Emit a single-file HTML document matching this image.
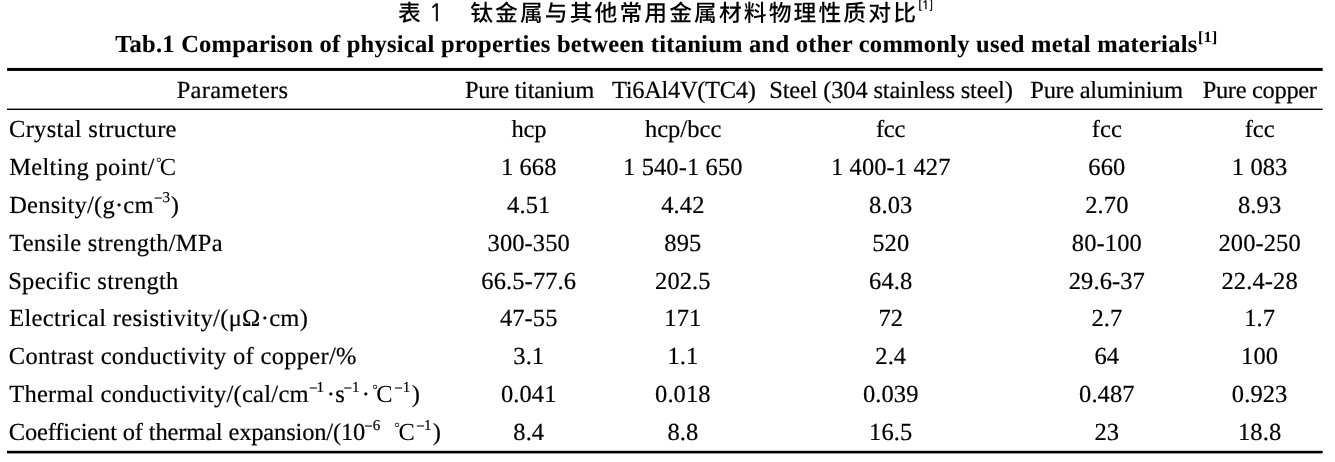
<!DOCTYPE html>
<html lang="zh"><head><meta charset="utf-8"><title>Tab.1</title>
<style>
html,body{margin:0;padding:0;background:#fff;}
body{text-rendering:geometricPrecision;width:1335px;height:462px;position:relative;overflow:hidden;color:#000;}
.t{position:absolute;white-space:pre;line-height:40px;height:40px;font-family:"Liberation Serif","Noto Serif CJK SC",serif;font-size:24.5px;-webkit-text-stroke:0.2px #000;}
.b{font-weight:bold;-webkit-text-stroke:0.1px #000;}
.cn{font-family:"Liberation Sans","Noto Sans CJK SC",sans-serif;font-size:22.8px;font-weight:500;-webkit-text-stroke:0;}
.n{font-size:24.5px;}
.c{width:200px;text-align:center;letter-spacing:0.1px;}
</style></head>
<body>
<svg width="1335" height="462" viewBox="0 0 1335 462" style="position:absolute;left:0;top:0" aria-hidden="true"><rect x="7" y="67.95" width="1315.7" height="3"/><rect x="7" y="108.6" width="1315.7" height="1.4"/><rect x="7" y="450.8" width="1315.7" height="2.6"/></svg>
<span class="t cn" style="left:397.93px;top:-6.70px;letter-spacing:0.000px;">表</span>
<span class="t cn" style="left:428.90px;top:-6.00px;letter-spacing:0.000px;font-family:NanumGothic,sans-serif;font-weight:400;font-size:23.6px;-webkit-text-stroke:0.5px #000;">1</span>
<span class="t cn" style="left:470.13px;top:-6.70px;letter-spacing:2.086px;">钛金属与其他常用金属材料物理性质对比</span>
<span class="t cn" style="left:917.67px;top:-14.70px;letter-spacing:0.266px;font-family:NanumGothic,sans-serif;font-weight:400;font-size:11.5px;-webkit-text-stroke:0.4px #000;">[1]</span>
<span class="t b" style="left:115.17px;top:24.50px;letter-spacing:0.256px;">Tab.1 Comparison of physical properties between titanium and other commonly used metal materials</span>
<span class="t b" style="left:1197.90px;top:18.00px;letter-spacing:0.633px;font-size:15.5px;">[1]</span>
<span class="t " style="left:176.67px;top:71.00px;letter-spacing:0.288px;">Parameters</span>
<span class="t " style="left:464.97px;top:71.00px;letter-spacing:-0.283px;">Pure titanium</span>
<span class="t " style="left:611.97px;top:71.00px;letter-spacing:-0.327px;">Ti6Al4V(TC4)</span>
<span class="t " style="left:769.27px;top:71.00px;letter-spacing:-0.181px;">Steel (304 stainless steel)</span>
<span class="t " style="left:1030.37px;top:71.00px;letter-spacing:-0.345px;">Pure aluminium</span>
<span class="t " style="left:1202.67px;top:71.00px;letter-spacing:-0.333px;">Pure copper</span>
<span class="t " style="left:9.03px;top:109.90px;letter-spacing:0.304px;">Crystal structure</span>
<span class="t " style="left:9.17px;top:147.80px;letter-spacing:0.333px;">Melting point/</span>
<span class="t " style="left:9.17px;top:185.70px;letter-spacing:0.234px;">Density/(g·cm</span>
<span class="t " style="left:9.17px;top:223.60px;letter-spacing:0.256px;">Tensile strength/MPa</span>
<span class="t " style="left:8.17px;top:261.50px;letter-spacing:0.304px;">Specific strength</span>
<span class="t " style="left:9.17px;top:299.40px;letter-spacing:0.330px;">Electrical resistivity/(μΩ·cm)</span>
<span class="t " style="left:8.83px;top:337.30px;letter-spacing:0.295px;">Contrast conductivity of copper/%</span>
<span class="t " style="left:9.17px;top:375.20px;letter-spacing:0.284px;">Thermal conductivity/(cal/cm</span>
<span class="t " style="left:8.83px;top:413.10px;letter-spacing:-0.162px;">Coefficient of thermal expansion/(10</span>
<span class="t" style="left:511.50px;top:109.90px;letter-spacing:-0.200px">hcp</span>
<span class="t c n" style="left:428.75px;top:147.80px">1 668</span>
<span class="t c n" style="left:428.75px;top:185.70px">4.51</span>
<span class="t c n" style="left:428.75px;top:223.60px">300-350</span>
<span class="t c n" style="left:428.75px;top:261.50px">66.5-77.6</span>
<span class="t c n" style="left:428.75px;top:299.40px">47-55</span>
<span class="t c n" style="left:428.75px;top:337.30px">3.1</span>
<span class="t c n" style="left:428.75px;top:375.20px">0.041</span>
<span class="t c n" style="left:428.75px;top:413.10px">8.4</span>
<span class="t" style="left:644.90px;top:109.90px;letter-spacing:0.033px">hcp/bcc</span>
<span class="t c n" style="left:582.85px;top:147.80px">1 540-1 650</span>
<span class="t c n" style="left:582.85px;top:185.70px">4.42</span>
<span class="t c n" style="left:582.85px;top:223.60px">895</span>
<span class="t c n" style="left:582.85px;top:261.50px">202.5</span>
<span class="t c n" style="left:582.85px;top:299.40px">171</span>
<span class="t c n" style="left:582.85px;top:337.30px">1.1</span>
<span class="t c n" style="left:582.85px;top:375.20px">0.018</span>
<span class="t c n" style="left:582.85px;top:413.10px">8.8</span>
<span class="t" style="left:875.93px;top:109.90px;letter-spacing:-0.267px">fcc</span>
<span class="t c n" style="left:790.75px;top:147.80px">1 400-1 427</span>
<span class="t c n" style="left:790.75px;top:185.70px">8.03</span>
<span class="t c n" style="left:790.75px;top:223.60px">520</span>
<span class="t c n" style="left:790.75px;top:261.50px">64.8</span>
<span class="t c n" style="left:790.75px;top:299.40px">72</span>
<span class="t c n" style="left:790.75px;top:337.30px">2.4</span>
<span class="t c n" style="left:790.75px;top:375.20px">0.039</span>
<span class="t c n" style="left:790.75px;top:413.10px">16.5</span>
<span class="t" style="left:1091.63px;top:109.90px;letter-spacing:0.167px">fcc</span>
<span class="t c n" style="left:1006.85px;top:147.80px">660</span>
<span class="t c n" style="left:1006.85px;top:185.70px">2.70</span>
<span class="t c n" style="left:1006.85px;top:223.60px">80-100</span>
<span class="t c n" style="left:1006.85px;top:261.50px">29.6-37</span>
<span class="t c n" style="left:1006.85px;top:299.40px">2.7</span>
<span class="t c n" style="left:1006.85px;top:337.30px">64</span>
<span class="t c n" style="left:1006.85px;top:375.20px">0.487</span>
<span class="t c n" style="left:1006.85px;top:413.10px">23</span>
<span class="t" style="left:1244.68px;top:109.90px;letter-spacing:0.000px">fcc</span>
<span class="t c n" style="left:1159.65px;top:147.80px">1 083</span>
<span class="t c n" style="left:1159.65px;top:185.70px">8.93</span>
<span class="t c n" style="left:1159.65px;top:223.60px">200-250</span>
<span class="t c n" style="left:1159.65px;top:261.50px">22.4-28</span>
<span class="t c n" style="left:1159.65px;top:299.40px">1.7</span>
<span class="t c n" style="left:1159.65px;top:337.30px">100</span>
<span class="t c n" style="left:1159.65px;top:375.20px">0.923</span>
<span class="t c n" style="left:1159.65px;top:413.10px">18.8</span>
<span class="t " style="left:156.03px;top:144.00px;letter-spacing:0.000px;font-size:14px;-webkit-text-stroke:0;">°</span>
<span class="t " style="left:159.80px;top:147.80px;letter-spacing:0.000px;-webkit-text-stroke:0;">C</span>
<span class="t " style="left:154.03px;top:178.20px;letter-spacing:-0.067px;font-size:15px;"><span style="position:relative;top:1.3px">−</span>3</span>
<span class="t " style="left:170.63px;top:185.70px;letter-spacing:0.000px;">)</span>
<span class="t " style="left:308.93px;top:367.80px;letter-spacing:-0.868px;font-size:15px;"><span style="position:relative;top:1.3px">−</span>1</span>
<span class="t " style="left:326.77px;top:375.20px;letter-spacing:0.000px;">·</span>
<span class="t " style="left:335.33px;top:375.20px;letter-spacing:0.000px;">s</span>
<span class="t " style="left:343.53px;top:367.80px;letter-spacing:0.066px;font-size:15px;"><span style="position:relative;top:1.3px">−</span>1</span>
<span class="t " style="left:361.77px;top:375.20px;letter-spacing:0.000px;">·</span>
<span class="t " style="left:372.13px;top:371.40px;letter-spacing:0.000px;font-size:14px;-webkit-text-stroke:0;">°</span>
<span class="t " style="left:376.30px;top:375.20px;letter-spacing:0.000px;-webkit-text-stroke:0;">C</span>
<span class="t " style="left:394.23px;top:367.80px;letter-spacing:-0.066px;font-size:15px;"><span style="position:relative;top:1.3px">−</span>1</span>
<span class="t " style="left:411.83px;top:375.20px;letter-spacing:0.000px;">)</span>
<span class="t " style="left:364.33px;top:405.70px;letter-spacing:0.000px;font-size:15px;"><span style="position:relative;top:1.3px">−</span>6</span>
<span class="t " style="left:394.13px;top:409.30px;letter-spacing:0.000px;font-size:14px;-webkit-text-stroke:0;">°</span>
<span class="t " style="left:398.50px;top:413.10px;letter-spacing:0.000px;-webkit-text-stroke:0;">C</span>
<span class="t " style="left:416.23px;top:405.70px;letter-spacing:-0.600px;font-size:15px;"><span style="position:relative;top:1.3px">−</span>1</span>
<span class="t " style="left:432.63px;top:413.10px;letter-spacing:0.000px;">)</span>
</body></html>
